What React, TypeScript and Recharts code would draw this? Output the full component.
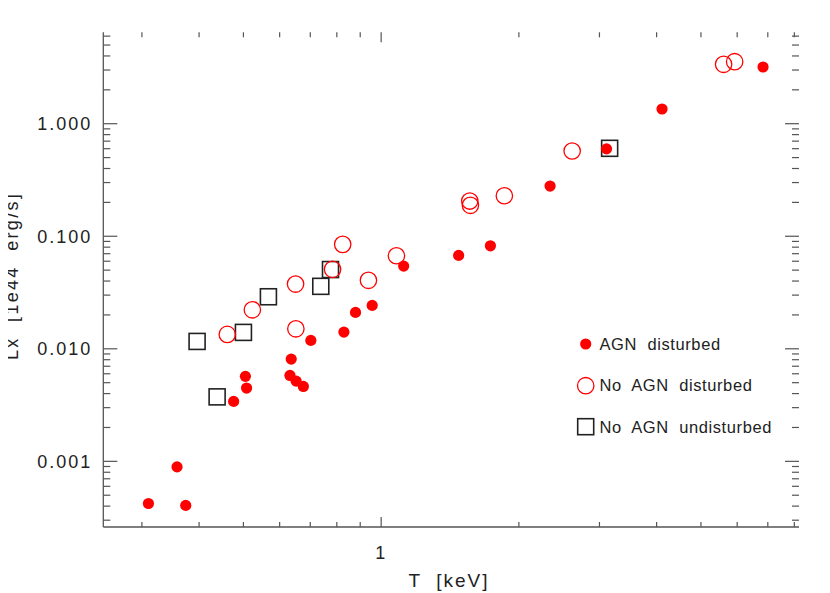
import React from 'react';
import { ScatterChart, Scatter, XAxis, YAxis, Label } from 'recharts';

// AGN disturbed (filled red dots)
const agnT = [0.310, 0.358, 0.374, 0.476, 0.508, 0.505, 0.632, 0.652, 0.676, 0.636, 0.702, 0.829, 0.879, 0.956, 1.120, 1.477, 1.733, 2.340, 3.109, 4.111, 6.834];
const agnLx = [0.000422, 0.000893, 0.000406, 0.00341, 0.00448, 0.00569, 0.0058, 0.00516, 0.00463, 0.0081, 0.01188, 0.01407, 0.02107, 0.0243, 0.0543, 0.0676, 0.0823, 0.2794, 0.598, 1.351, 3.19];

// No AGN disturbed (open red circles)
const noAgnDistT = [0.461, 0.523, 0.650, 0.651, 0.783, 0.824, 0.938, 1.080, 1.562, 1.567, 1.859, 2.615, 5.604, 5.924];
const noAgnDistLx = [0.01343, 0.0222, 0.0376, 0.01506, 0.0508, 0.0847, 0.0406, 0.0671, 0.2056, 0.1883, 0.229, 0.572, 3.373, 3.557];

// No AGN undisturbed (open squares)
const noAgnUndT = [0.396, 0.438, 0.500, 0.567, 0.738, 0.775, 3.158];
const noAgnUndLx = [0.01163, 0.00374, 0.01399, 0.029, 0.0359, 0.0506, 0.6045];

const xTicks = [0.3, 0.4, 0.5, 0.6, 0.7, 0.8, 0.9, 1, 2, 3, 4, 5, 6, 7, 8];
const xMajor = [1];
const xMajorLabels = ['1'];

const yTicks = [
  0.0003, 0.0004, 0.0005, 0.0006, 0.0007, 0.0008, 0.0009,
  0.001, 0.002, 0.003, 0.004, 0.005, 0.006, 0.007, 0.008, 0.009,
  0.01, 0.02, 0.03, 0.04, 0.05, 0.06, 0.07, 0.08, 0.09,
  0.1, 0.2, 0.3, 0.4, 0.5, 0.6, 0.7, 0.8, 0.9,
  1, 2, 3, 4, 5, 6,
];
const yMajor = [0.001, 0.01, 0.1, 1];
const yMajorLabels = ['0.001', '0.010', '0.100', '1.000'];

const legendLabels = ['AGN disturbed', 'No AGN disturbed', 'No AGN undisturbed'];

const zip = (t: number[], l: number[]) => t.map((v, i) => ({ t: v, lx: l[i] }));
const agnData = zip(agnT, agnLx);
const distData = zip(noAgnDistT, noAgnDistLx);
const undData = zip(noAgnUndT, noAgnUndLx);

// wrapper is pulled 8px left (x coords = page coords); vertically it sits at the 8px body margin
const W = 830;
const H = 585;
const PL = 103.3;
const PR = 799;
const PT = 24.3;
const PB = 519;
const AXIS = '#555';
const TXT = '#222';
const FONT = '"Liberation Sans", Arial, sans-serif';
const RED = '#ff0000';

const XTick = (props: any) => {
  const x = props.x;
  const v = props.payload.value;
  const idx = xMajor.indexOf(v);
  const major = idx >= 0;
  const len = major ? 10 : 5;
  return (
    <g>
      <line x1={x} x2={x} y1={PB} y2={PB - len} stroke={AXIS} strokeWidth={1.2} />
      <line x1={x} x2={x} y1={PT} y2={PT + len} stroke={AXIS} strokeWidth={1.2} />
      {major && (
        <text x={x} y={551} textAnchor="middle" fontFamily={FONT} fontSize={18} fill={TXT} letterSpacing={2}>
          {xMajorLabels[idx]}
        </text>
      )}
    </g>
  );
};

const YTick = (props: any) => {
  const y = props.y;
  const v = props.payload.value;
  const idx = yMajor.indexOf(v);
  const major = idx >= 0;
  const len = major ? 14 : 7;
  return (
    <g>
      <line x1={PL} x2={PL + len} y1={y} y2={y} stroke={AXIS} strokeWidth={1.2} />
      <line x1={PR} x2={PR - len} y1={y} y2={y} stroke={AXIS} strokeWidth={1.2} />
      {major && (
        <text x={PL - 11} y={y + 6.5} textAnchor="end" fontFamily={FONT} fontSize={18} fill={TXT} letterSpacing={2}>
          {yMajorLabels[idx]}
        </text>
      )}
    </g>
  );
};

const Dot = (p: any) => <circle cx={p.cx} cy={p.cy} r={5.6} fill={RED} />;
const Ring = (p: any) => <circle cx={p.cx} cy={p.cy} r={8.2} fill="none" stroke={RED} strokeWidth={1.3} />;
const Box = (p: any) => (
  <rect x={p.cx - 8} y={p.cy - 8} width={16} height={16} fill="none" stroke="#222" strokeWidth={1.6} />
);

export default function App() {
  return (
    <div style={{ position: 'relative', width: W, height: H, marginLeft: -8 }}>
      <ScatterChart width={W} height={H} margin={{ top: PT, right: W - PR, bottom: 0, left: 0 }}>
        <XAxis
          dataKey="t"
          type="number"
          scale="log"
          domain={[0.247, 8.19]}
          allowDataOverflow
          ticks={xTicks}
          interval={0}
          tick={XTick}
          tickLine={false}
          axisLine={{ stroke: AXIS, strokeWidth: 1.3 }}
          height={H - PB}
        >
          <Label
            content={() => (
              <text x={449} y={579} textAnchor="middle" fontFamily={FONT} fontSize={19} fill={TXT} letterSpacing={2} style={{ whiteSpace: 'pre' }}>
                {'T  [keV]'}
              </text>
            )}
          />
        </XAxis>
        <XAxis xAxisId="top" orientation="top" type="number" domain={[0, 1]} ticks={[]} tick={false} tickLine={false} axisLine={{ stroke: AXIS, strokeWidth: 1.3 }} height={0} />
        <YAxis
          dataKey="lx"
          type="number"
          scale="log"
          domain={[0.000261, 6.49]}
          allowDataOverflow
          ticks={yTicks}
          interval={0}
          tick={YTick}
          tickLine={false}
          axisLine={{ stroke: AXIS, strokeWidth: 1.3 }}
          width={PL}
        >
          <Label
            content={() => (
              <text x={0} y={0} transform={`translate(17.5,268) rotate(-90)`} textAnchor="middle" fontFamily={FONT} fontSize={18} fill={TXT} letterSpacing={2.3} style={{ whiteSpace: 'pre' }}>
                {'Lx  [1e44  erg/s]'}
              </text>
            )}
          />
        </YAxis>
        <YAxis yAxisId="right" orientation="right" type="number" domain={[0, 1]} ticks={[]} tick={false} tickLine={false} axisLine={{ stroke: AXIS, strokeWidth: 1.3 }} width={0} />
        <Scatter data={undData} shape={Box} isAnimationActive={false} />
        <Scatter data={agnData} shape={Dot} isAnimationActive={false} />
        <Scatter data={distData} shape={Ring} isAnimationActive={false} />
      </ScatterChart>
      <svg width={W} height={H} style={{ position: 'absolute', left: 0, top: 0, pointerEvents: 'none' }}>
        <circle cx={585.7} cy={336} r={5.6} fill={RED} />
        <circle cx={585.7} cy={377.7} r={8.2} fill="none" stroke={RED} strokeWidth={1.3} />
        <rect x={577.7} y={410.7} width={16} height={16} fill="none" stroke="#222" strokeWidth={1.6} />
        {legendLabels.map((s, i) => (
          <text key={s} x={599.5} y={342 + i * 41.4} fontFamily={FONT} fontSize={16.5} fill={TXT} letterSpacing={0.6} style={{ whiteSpace: 'pre' }}>
            {s.replace(/ /g, '  ')}
          </text>
        ))}
      </svg>
    </div>
  );
}
